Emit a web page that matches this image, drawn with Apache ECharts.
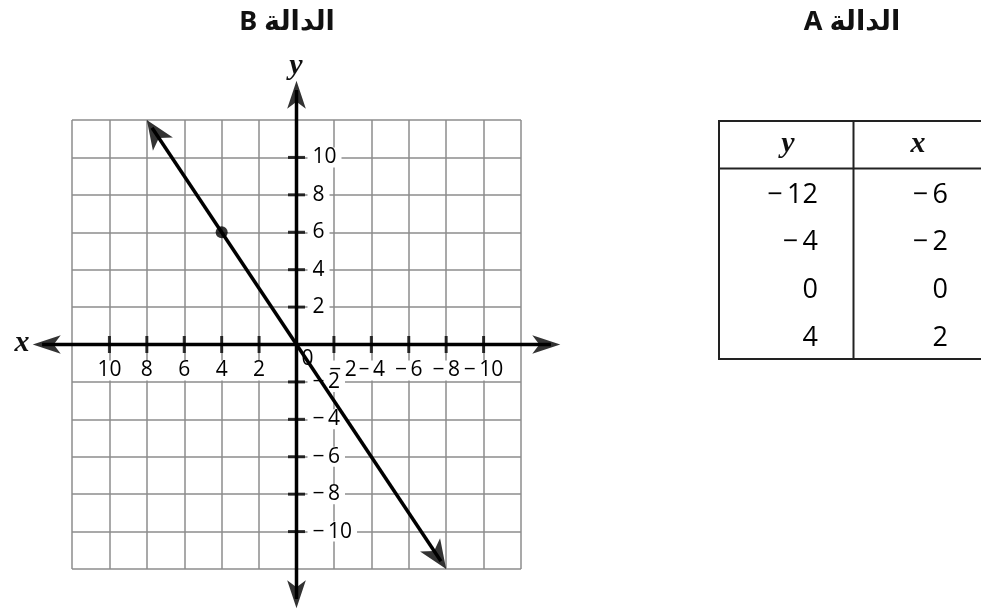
<!DOCTYPE html>
<html>
<head>
<meta charset="utf-8">
<script src="https://cdn.jsdelivr.net/npm/echarts@6/dist/echarts.min.js"></script>
<style>
html, body { margin: 0; padding: 0; background: #fff; }
#chart { width: 981px; height: 611px; }
</style>
</head>
<body>
<div id="chart"></div>
<script>
// function B: graph (x axis reads right-to-left)
var lineEnds = [[8, 12], [-8, -12]];
var markedPoint = [4, 6];
var tickValues = [-10, -8, -6, -4, -2, 2, 4, 6, 8, 10];
var axisReach = 14.1;
var titleB = 'الدالة B';

// function A: table
var tableX = [-6, -2, 0, 2];
var tableY = [-12, -4, 0, 4];
var titleA = 'الدالة A';

var numFont = '"Open Sans", "Noto Sans", sans-serif';
var mathFont = '"Liberation Serif", "DejaVu Serif", serif';
var titleFont = '"Noto Sans", "DejaVu Sans", sans-serif';
function fmt(v) { return v < 0 ? '\u2212\u2009' + (-v) : String(v); }

// arrow symbol tip sits on the point; both axes share one px scale, x runs inverse
function arrowItem(from, to, size) {
  var r = Math.atan2(to[0] - from[0], to[1] - from[1]);
  return { value: to, symbolSize: size, symbolRotate: r * 180 / Math.PI };
}
// shaft stops a bit short so the arrow tip stays sharp
function pullBack(from, to, d) {
  var dx = to[0] - from[0], dy = to[1] - from[1];
  var len = Math.sqrt(dx * dx + dy * dy);
  return [to[0] - dx / len * d, to[1] - dy / len * d];
}
function shaft(a, b) {
  return pullBack(b, a, 0.5).concat(pullBack(a, b, 0.5));
}

var xEnds = [[axisReach, 0], [-axisReach, 0]];
var yEnds = [[0, -axisReach], [0, axisReach]];
var axisArrow = [14, 28];
var lineArrow = [18, 29];

var tickLabel = {
  show: true, fontSize: 21, lineHeight: 20, fontFamily: numFont, color: '#000',
  backgroundColor: '#fff', textBorderWidth: 0, opacity: 1
};

var rowY = function (i) { return 195 + i * 47.7; };
var cellStyle = function (v) {
  return { text: fmt(v), fontSize: 27, fontFamily: numFont, fill: '#000', align: 'right', verticalAlign: 'middle' };
};
var tableTexts = [];
tableY.forEach(function (v, i) {
  tableTexts.push({ type: 'text', x: 818, y: rowY(i), style: cellStyle(v) });
});
tableX.forEach(function (v, i) {
  tableTexts.push({ type: 'text', x: 948, y: rowY(i), style: cellStyle(v) });
});

var gridAxis = {
  type: 'value', min: -12, max: 12, interval: 2,
  axisLine: { show: false },
  axisTick: { show: false },
  axisLabel: { show: false },
  splitLine: { lineStyle: { color: '#8c8c8c', width: 1.5 } }
};

var chart = echarts.init(document.getElementById('chart'));
chart.setOption({
  animation: false,
  grid: { left: 72, top: 120, width: 449, height: 449 },
  xAxis: Object.assign({ inverse: true }, gridAxis),
  yAxis: Object.assign({}, gridAxis),
  series: [
    // tick labels (white boxes hide the grid lines behind them)
    {
      type: 'scatter', symbolSize: 1, silent: true, z: 2,
      itemStyle: { color: '#fff', opacity: 0 },
      label: Object.assign({}, tickLabel, { position: 'inside', offset: [0, 26], padding: [0, 3],
        formatter: function (p) { return fmt(p.value[0]); } }),
      data: tickValues.map(function (v) {
        return v === -2 ? { value: [v, 0], label: { offset: [9, 26] } } : [v, 0];
      })
    },
    {
      type: 'scatter', symbolSize: 1, silent: true, z: 2,
      itemStyle: { color: '#fff', opacity: 0 },
      label: Object.assign({}, tickLabel, { position: 'inside', offset: [11, 0], padding: [0, 5],
        align: 'left', verticalAlign: 'middle',
        formatter: function (p) { return fmt(p.value[1]); } }),
      data: tickValues.map(function (v) { return [0, v]; })
    },
    {
      type: 'scatter', symbolSize: 1, silent: true, z: 2,
      itemStyle: { color: '#fff', opacity: 0 },
      label: Object.assign({}, tickLabel, { backgroundColor: 'transparent', position: 'inside',
        offset: [11, 15], formatter: '0' }),
      data: [[0, 0]]
    },
    // tick marks crossing the axes
    {
      type: 'scatter', symbol: 'rect', symbolSize: [3, 17], silent: true, z: 3,
      itemStyle: { color: '#000' },
      data: tickValues.map(function (v) { return [v, 0]; })
    },
    {
      type: 'scatter', symbol: 'rect', symbolSize: [17, 3], silent: true, z: 3,
      itemStyle: { color: '#000' },
      data: tickValues.map(function (v) { return [0, v]; })
    },
    // axis shafts and the graph of B
    {
      type: 'custom', silent: true, z: 3, clip: false,
      encode: { x: [0, 2], y: [1, 3] },
      data: [
        shaft(xEnds[0], xEnds[1]),
        shaft(yEnds[0], yEnds[1]),
        shaft(lineEnds[0], lineEnds[1])
      ],
      renderItem: function (params, api) {
        var a = api.coord([api.value(0), api.value(1)]);
        var b = api.coord([api.value(2), api.value(3)]);
        return {
          type: 'line',
          shape: { x1: a[0], y1: a[1], x2: b[0], y2: b[1] },
          style: { stroke: '#000', lineWidth: 3.5 }
        };
      }
    },
    {
      type: 'scatter', symbol: 'arrow', clip: false, silent: true, z: 4,
      itemStyle: { color: '#000' },
      data: [
        arrowItem(xEnds[1], xEnds[0], axisArrow),
        arrowItem(xEnds[0], xEnds[1], axisArrow),
        arrowItem(yEnds[0], yEnds[1], axisArrow),
        arrowItem(yEnds[1], yEnds[0], axisArrow),
        arrowItem(lineEnds[1], lineEnds[0], lineArrow),
        arrowItem(lineEnds[0], lineEnds[1], lineArrow)
      ]
    },
    {
      type: 'scatter', symbolSize: 12, silent: true, z: 4,
      itemStyle: { color: '#000' },
      data: [markedPoint]
    }
  ],
  graphic: [
    { type: 'text', x: 287, y: 22, style: { text: '\u202B' + titleB + '\u202C', fontSize: 27, fontWeight: 'bold',
      fontFamily: titleFont, fill: '#111', align: 'center', verticalAlign: 'middle' } },
    { type: 'text', x: 852, y: 22, style: { text: '\u202B' + titleA + '\u202C', fontSize: 27, fontWeight: 'bold',
      fontFamily: titleFont, fill: '#111', align: 'center', verticalAlign: 'middle' } },
    { type: 'text', x: 22, y: 343, style: { text: 'x', fontSize: 30, fontStyle: 'italic', fontWeight: 'bold',
      fontFamily: mathFont, fill: '#111', align: 'center', verticalAlign: 'middle' } },
    { type: 'text', x: 296, y: 66, style: { text: 'y', fontSize: 30, fontStyle: 'italic', fontWeight: 'bold',
      fontFamily: mathFont, fill: '#111', align: 'center', verticalAlign: 'middle' } },
    { type: 'rect', shape: { x: 719, y: 121, width: 320, height: 238 },
      style: { fill: 'none', stroke: '#222', lineWidth: 2 } },
    { type: 'line', shape: { x1: 719, y1: 168.5, x2: 981, y2: 168.5 }, style: { stroke: '#222', lineWidth: 2 } },
    { type: 'line', shape: { x1: 853.5, y1: 121, x2: 853.5, y2: 359 }, style: { stroke: '#222', lineWidth: 2 } },
    { type: 'text', x: 788, y: 144, style: { text: 'y', fontSize: 30, fontStyle: 'italic', fontWeight: 'bold',
      fontFamily: mathFont, fill: '#111', align: 'center', verticalAlign: 'middle' } },
    { type: 'text', x: 918, y: 144, style: { text: 'x', fontSize: 30, fontStyle: 'italic', fontWeight: 'bold',
      fontFamily: mathFont, fill: '#111', align: 'center', verticalAlign: 'middle' } }
  ].concat(tableTexts)
});
</script>
</body>
</html>
